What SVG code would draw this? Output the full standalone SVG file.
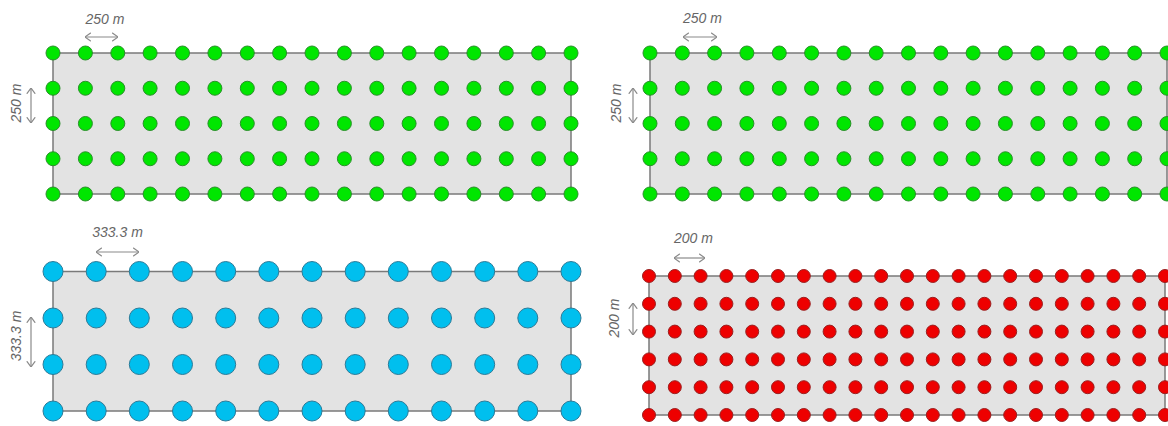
<svg xmlns="http://www.w3.org/2000/svg" xmlns:xlink="http://www.w3.org/1999/xlink" width="1168" height="426" viewBox="0 0 1168 426">
<style>
.area{fill:#e3e3e3;stroke:#7a7a7a;stroke-width:1.5}
.g{fill:#00e600;stroke:#2b8f2b;stroke-width:1}
.b{fill:#00bfee;stroke:#2c7b98;stroke-width:1}
.r{fill:#ee0000;stroke:#9a2020;stroke-width:1}
.lbl{font-family:"Liberation Sans",Arial,sans-serif;font-style:italic;font-size:14px;fill:#666;text-anchor:middle}
.dim{stroke:#8a8a8a;stroke-width:1.2;fill:none;marker-start:url(#ah);marker-end:url(#ah)}
</style>
<defs>
<marker id="ah" viewBox="0 0 10 10" refX="9.3" refY="5" markerWidth="7" markerHeight="10" markerUnits="userSpaceOnUse" orient="auto-start-reverse" preserveAspectRatio="none">
<path d="M1,0.8 L9.3,5 L1,9.2" fill="none" stroke="#8a8a8a" stroke-width="1.3"/>
</marker>
<circle id="cg" r="7" class="g"/>
<circle id="cb" r="10" class="b"/>
<circle id="cr" r="6.5" class="r"/>
</defs>
<rect width="1168" height="426" fill="#fff"/>

<g id="panel-top-left">
<rect class="area" x="53" y="53" width="518" height="141"/>
<g id="grid-tl">
<g transform="translate(0,53)"><use href="#cg" x="53"/><use href="#cg" x="85.4"/><use href="#cg" x="117.8"/><use href="#cg" x="150.1"/><use href="#cg" x="182.5"/><use href="#cg" x="214.9"/><use href="#cg" x="247.3"/><use href="#cg" x="279.6"/><use href="#cg" x="312"/><use href="#cg" x="344.4"/><use href="#cg" x="376.8"/><use href="#cg" x="409.1"/><use href="#cg" x="441.5"/><use href="#cg" x="473.9"/><use href="#cg" x="506.3"/><use href="#cg" x="538.6"/><use href="#cg" x="571"/></g>
<g transform="translate(0,88.25)"><use href="#cg" x="53"/><use href="#cg" x="85.4"/><use href="#cg" x="117.8"/><use href="#cg" x="150.1"/><use href="#cg" x="182.5"/><use href="#cg" x="214.9"/><use href="#cg" x="247.3"/><use href="#cg" x="279.6"/><use href="#cg" x="312"/><use href="#cg" x="344.4"/><use href="#cg" x="376.8"/><use href="#cg" x="409.1"/><use href="#cg" x="441.5"/><use href="#cg" x="473.9"/><use href="#cg" x="506.3"/><use href="#cg" x="538.6"/><use href="#cg" x="571"/></g>
<g transform="translate(0,123.5)"><use href="#cg" x="53"/><use href="#cg" x="85.4"/><use href="#cg" x="117.8"/><use href="#cg" x="150.1"/><use href="#cg" x="182.5"/><use href="#cg" x="214.9"/><use href="#cg" x="247.3"/><use href="#cg" x="279.6"/><use href="#cg" x="312"/><use href="#cg" x="344.4"/><use href="#cg" x="376.8"/><use href="#cg" x="409.1"/><use href="#cg" x="441.5"/><use href="#cg" x="473.9"/><use href="#cg" x="506.3"/><use href="#cg" x="538.6"/><use href="#cg" x="571"/></g>
<g transform="translate(0,158.75)"><use href="#cg" x="53"/><use href="#cg" x="85.4"/><use href="#cg" x="117.8"/><use href="#cg" x="150.1"/><use href="#cg" x="182.5"/><use href="#cg" x="214.9"/><use href="#cg" x="247.3"/><use href="#cg" x="279.6"/><use href="#cg" x="312"/><use href="#cg" x="344.4"/><use href="#cg" x="376.8"/><use href="#cg" x="409.1"/><use href="#cg" x="441.5"/><use href="#cg" x="473.9"/><use href="#cg" x="506.3"/><use href="#cg" x="538.6"/><use href="#cg" x="571"/></g>
<g transform="translate(0,194)"><use href="#cg" x="53"/><use href="#cg" x="85.4"/><use href="#cg" x="117.8"/><use href="#cg" x="150.1"/><use href="#cg" x="182.5"/><use href="#cg" x="214.9"/><use href="#cg" x="247.3"/><use href="#cg" x="279.6"/><use href="#cg" x="312"/><use href="#cg" x="344.4"/><use href="#cg" x="376.8"/><use href="#cg" x="409.1"/><use href="#cg" x="441.5"/><use href="#cg" x="473.9"/><use href="#cg" x="506.3"/><use href="#cg" x="538.6"/><use href="#cg" x="571"/></g>
</g>
<text class="lbl" x="105" y="24">250 m</text>
<text class="lbl" transform="translate(21,103) rotate(-90)">250 m</text>
</g>

<g id="panel-top-right">
<rect class="area" x="650" y="53" width="517" height="141"/>
<g id="grid-tr">
<g transform="translate(0,53)"><use href="#cg" x="650"/><use href="#cg" x="682.3"/><use href="#cg" x="714.6"/><use href="#cg" x="746.9"/><use href="#cg" x="779.3"/><use href="#cg" x="811.6"/><use href="#cg" x="843.9"/><use href="#cg" x="876.2"/><use href="#cg" x="908.5"/><use href="#cg" x="940.8"/><use href="#cg" x="973.1"/><use href="#cg" x="1005.4"/><use href="#cg" x="1037.8"/><use href="#cg" x="1070.1"/><use href="#cg" x="1102.4"/><use href="#cg" x="1134.7"/><use href="#cg" x="1167"/></g>
<g transform="translate(0,88.25)"><use href="#cg" x="650"/><use href="#cg" x="682.3"/><use href="#cg" x="714.6"/><use href="#cg" x="746.9"/><use href="#cg" x="779.3"/><use href="#cg" x="811.6"/><use href="#cg" x="843.9"/><use href="#cg" x="876.2"/><use href="#cg" x="908.5"/><use href="#cg" x="940.8"/><use href="#cg" x="973.1"/><use href="#cg" x="1005.4"/><use href="#cg" x="1037.8"/><use href="#cg" x="1070.1"/><use href="#cg" x="1102.4"/><use href="#cg" x="1134.7"/><use href="#cg" x="1167"/></g>
<g transform="translate(0,123.5)"><use href="#cg" x="650"/><use href="#cg" x="682.3"/><use href="#cg" x="714.6"/><use href="#cg" x="746.9"/><use href="#cg" x="779.3"/><use href="#cg" x="811.6"/><use href="#cg" x="843.9"/><use href="#cg" x="876.2"/><use href="#cg" x="908.5"/><use href="#cg" x="940.8"/><use href="#cg" x="973.1"/><use href="#cg" x="1005.4"/><use href="#cg" x="1037.8"/><use href="#cg" x="1070.1"/><use href="#cg" x="1102.4"/><use href="#cg" x="1134.7"/><use href="#cg" x="1167"/></g>
<g transform="translate(0,158.75)"><use href="#cg" x="650"/><use href="#cg" x="682.3"/><use href="#cg" x="714.6"/><use href="#cg" x="746.9"/><use href="#cg" x="779.3"/><use href="#cg" x="811.6"/><use href="#cg" x="843.9"/><use href="#cg" x="876.2"/><use href="#cg" x="908.5"/><use href="#cg" x="940.8"/><use href="#cg" x="973.1"/><use href="#cg" x="1005.4"/><use href="#cg" x="1037.8"/><use href="#cg" x="1070.1"/><use href="#cg" x="1102.4"/><use href="#cg" x="1134.7"/><use href="#cg" x="1167"/></g>
<g transform="translate(0,194)"><use href="#cg" x="650"/><use href="#cg" x="682.3"/><use href="#cg" x="714.6"/><use href="#cg" x="746.9"/><use href="#cg" x="779.3"/><use href="#cg" x="811.6"/><use href="#cg" x="843.9"/><use href="#cg" x="876.2"/><use href="#cg" x="908.5"/><use href="#cg" x="940.8"/><use href="#cg" x="973.1"/><use href="#cg" x="1005.4"/><use href="#cg" x="1037.8"/><use href="#cg" x="1070.1"/><use href="#cg" x="1102.4"/><use href="#cg" x="1134.7"/><use href="#cg" x="1167"/></g>
</g>
<text class="lbl" x="702.5" y="23">250 m</text>
<text class="lbl" transform="translate(621,103) rotate(-90)">250 m</text>
</g>

<g id="panel-bottom-left">
<rect class="area" x="53" y="271.5" width="518" height="139.5"/>
<g id="grid-bl">
<g transform="translate(0,271.5)"><use href="#cb" x="53"/><use href="#cb" x="96.2"/><use href="#cb" x="139.3"/><use href="#cb" x="182.5"/><use href="#cb" x="225.7"/><use href="#cb" x="268.8"/><use href="#cb" x="312"/><use href="#cb" x="355.2"/><use href="#cb" x="398.3"/><use href="#cb" x="441.5"/><use href="#cb" x="484.7"/><use href="#cb" x="527.8"/><use href="#cb" x="571"/></g>
<g transform="translate(0,318)"><use href="#cb" x="53"/><use href="#cb" x="96.2"/><use href="#cb" x="139.3"/><use href="#cb" x="182.5"/><use href="#cb" x="225.7"/><use href="#cb" x="268.8"/><use href="#cb" x="312"/><use href="#cb" x="355.2"/><use href="#cb" x="398.3"/><use href="#cb" x="441.5"/><use href="#cb" x="484.7"/><use href="#cb" x="527.8"/><use href="#cb" x="571"/></g>
<g transform="translate(0,364.5)"><use href="#cb" x="53"/><use href="#cb" x="96.2"/><use href="#cb" x="139.3"/><use href="#cb" x="182.5"/><use href="#cb" x="225.7"/><use href="#cb" x="268.8"/><use href="#cb" x="312"/><use href="#cb" x="355.2"/><use href="#cb" x="398.3"/><use href="#cb" x="441.5"/><use href="#cb" x="484.7"/><use href="#cb" x="527.8"/><use href="#cb" x="571"/></g>
<g transform="translate(0,411)"><use href="#cb" x="53"/><use href="#cb" x="96.2"/><use href="#cb" x="139.3"/><use href="#cb" x="182.5"/><use href="#cb" x="225.7"/><use href="#cb" x="268.8"/><use href="#cb" x="312"/><use href="#cb" x="355.2"/><use href="#cb" x="398.3"/><use href="#cb" x="441.5"/><use href="#cb" x="484.7"/><use href="#cb" x="527.8"/><use href="#cb" x="571"/></g>
</g>
<text class="lbl" x="117.5" y="237">333.3 m</text>
<text class="lbl" transform="translate(21,336) rotate(-90)">333.3 m</text>
</g>

<g id="panel-bottom-right">
<rect class="area" x="649" y="276" width="516" height="139"/>
<g id="grid-br">
<g transform="translate(0,276)"><use href="#cr" x="649"/><use href="#cr" x="674.8"/><use href="#cr" x="700.6"/><use href="#cr" x="726.4"/><use href="#cr" x="752.2"/><use href="#cr" x="778"/><use href="#cr" x="803.8"/><use href="#cr" x="829.6"/><use href="#cr" x="855.4"/><use href="#cr" x="881.2"/><use href="#cr" x="907"/><use href="#cr" x="932.8"/><use href="#cr" x="958.6"/><use href="#cr" x="984.4"/><use href="#cr" x="1010.2"/><use href="#cr" x="1036"/><use href="#cr" x="1061.8"/><use href="#cr" x="1087.6"/><use href="#cr" x="1113.4"/><use href="#cr" x="1139.2"/><use href="#cr" x="1165"/></g>
<g transform="translate(0,303.8)"><use href="#cr" x="649"/><use href="#cr" x="674.8"/><use href="#cr" x="700.6"/><use href="#cr" x="726.4"/><use href="#cr" x="752.2"/><use href="#cr" x="778"/><use href="#cr" x="803.8"/><use href="#cr" x="829.6"/><use href="#cr" x="855.4"/><use href="#cr" x="881.2"/><use href="#cr" x="907"/><use href="#cr" x="932.8"/><use href="#cr" x="958.6"/><use href="#cr" x="984.4"/><use href="#cr" x="1010.2"/><use href="#cr" x="1036"/><use href="#cr" x="1061.8"/><use href="#cr" x="1087.6"/><use href="#cr" x="1113.4"/><use href="#cr" x="1139.2"/><use href="#cr" x="1165"/></g>
<g transform="translate(0,331.6)"><use href="#cr" x="649"/><use href="#cr" x="674.8"/><use href="#cr" x="700.6"/><use href="#cr" x="726.4"/><use href="#cr" x="752.2"/><use href="#cr" x="778"/><use href="#cr" x="803.8"/><use href="#cr" x="829.6"/><use href="#cr" x="855.4"/><use href="#cr" x="881.2"/><use href="#cr" x="907"/><use href="#cr" x="932.8"/><use href="#cr" x="958.6"/><use href="#cr" x="984.4"/><use href="#cr" x="1010.2"/><use href="#cr" x="1036"/><use href="#cr" x="1061.8"/><use href="#cr" x="1087.6"/><use href="#cr" x="1113.4"/><use href="#cr" x="1139.2"/><use href="#cr" x="1165"/></g>
<g transform="translate(0,359.4)"><use href="#cr" x="649"/><use href="#cr" x="674.8"/><use href="#cr" x="700.6"/><use href="#cr" x="726.4"/><use href="#cr" x="752.2"/><use href="#cr" x="778"/><use href="#cr" x="803.8"/><use href="#cr" x="829.6"/><use href="#cr" x="855.4"/><use href="#cr" x="881.2"/><use href="#cr" x="907"/><use href="#cr" x="932.8"/><use href="#cr" x="958.6"/><use href="#cr" x="984.4"/><use href="#cr" x="1010.2"/><use href="#cr" x="1036"/><use href="#cr" x="1061.8"/><use href="#cr" x="1087.6"/><use href="#cr" x="1113.4"/><use href="#cr" x="1139.2"/><use href="#cr" x="1165"/></g>
<g transform="translate(0,387.2)"><use href="#cr" x="649"/><use href="#cr" x="674.8"/><use href="#cr" x="700.6"/><use href="#cr" x="726.4"/><use href="#cr" x="752.2"/><use href="#cr" x="778"/><use href="#cr" x="803.8"/><use href="#cr" x="829.6"/><use href="#cr" x="855.4"/><use href="#cr" x="881.2"/><use href="#cr" x="907"/><use href="#cr" x="932.8"/><use href="#cr" x="958.6"/><use href="#cr" x="984.4"/><use href="#cr" x="1010.2"/><use href="#cr" x="1036"/><use href="#cr" x="1061.8"/><use href="#cr" x="1087.6"/><use href="#cr" x="1113.4"/><use href="#cr" x="1139.2"/><use href="#cr" x="1165"/></g>
<g transform="translate(0,415)"><use href="#cr" x="649"/><use href="#cr" x="674.8"/><use href="#cr" x="700.6"/><use href="#cr" x="726.4"/><use href="#cr" x="752.2"/><use href="#cr" x="778"/><use href="#cr" x="803.8"/><use href="#cr" x="829.6"/><use href="#cr" x="855.4"/><use href="#cr" x="881.2"/><use href="#cr" x="907"/><use href="#cr" x="932.8"/><use href="#cr" x="958.6"/><use href="#cr" x="984.4"/><use href="#cr" x="1010.2"/><use href="#cr" x="1036"/><use href="#cr" x="1061.8"/><use href="#cr" x="1087.6"/><use href="#cr" x="1113.4"/><use href="#cr" x="1139.2"/><use href="#cr" x="1165"/></g>
</g>
<text class="lbl" x="693.5" y="243">200 m</text>
<text class="lbl" transform="translate(619,318) rotate(-90)">200 m</text>
</g>

<g id="connectors">
<line class="dim" x1="85" y1="37" x2="118" y2="37"/>
<line class="dim" x1="31" y1="88" x2="31" y2="123"/>
<line class="dim" x1="683" y1="37" x2="717" y2="37"/>
<line class="dim" x1="633" y1="88" x2="633" y2="123"/>
<line class="dim" x1="96" y1="252" x2="139" y2="252"/>
<line class="dim" x1="31" y1="317" x2="31" y2="367"/>
<line class="dim" x1="674" y1="258" x2="705" y2="258"/>
<line class="dim" x1="633" y1="303" x2="633" y2="335"/>
</g>
</svg>
